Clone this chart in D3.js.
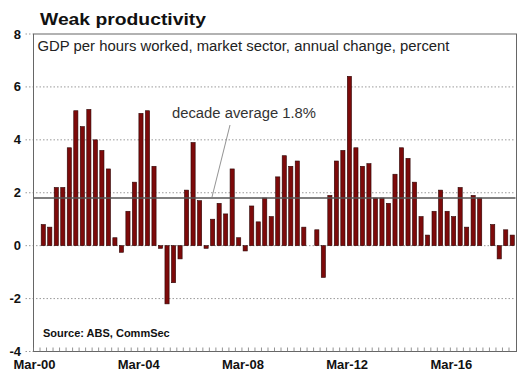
<!DOCTYPE html>
<html>
<head>
<meta charset="utf-8">
<script src="https://cdn.jsdelivr.net/npm/d3@7"></script>
<style>
  html, body { margin: 0; padding: 0; background: #fff; }
  svg { display: block; font-family: Arial, "Liberation Sans", sans-serif; }
</style>
</head>
<body>
<svg id="chart" width="518" height="372"></svg>
<script>
// Market-sector labour productivity, annual % change, quarterly from Mar-00
const firstYear = 2000;
const quarterMonths = ["Mar", "Jun", "Sep", "Dec"];
const productivity = [
  0.8, 0.7, 2.2, 2.2, 3.7, 5.1, 4.5, 5.15, 4.0, 3.6, 2.9, 0.3,
  -0.25, 1.3, 2.4, 5.0, 5.1, 3.0, -0.1, -2.2, -1.4, -0.5, 2.1, 3.9,
  1.7, -0.1, 1.0, 1.6, 1.2, 2.9, 0.3, -0.2, 1.5, 0.9, 1.8, 1.1,
  2.6, 3.4, 3.0, 3.2, 0.7, 0.0, 0.6, -1.2, 1.9, 3.2, 3.6, 6.4,
  3.7, 3.0, 3.1, 1.8, 1.8, 1.6, 2.7, 3.7, 3.3, 2.4, 1.1, 0.4,
  1.3, 2.1, 1.3, 1.1, 2.2, 0.7, 1.9, 1.8, null, 0.8, -0.5, 0.6,
  0.4
];
const decadeAverage = 1.8;
const yTicks = [8, 6, 4, 2, 0, -2, -4];
const xTickLabels = ["Mar-00", "Mar-04", "Mar-08", "Mar-12", "Mar-16"];

// Category list: a leading Dec-99 slot, then one label per quarter
const quarters = ["Dec-99"];
productivity.forEach((_, i) => {
  const yr = firstYear + Math.floor(i / 4);
  quarters.push(quarterMonths[i % 4] + "-" + String(yr % 100).padStart(2, "0"));
});
const series = quarters.map((q, i) => ({ q, v: i === 0 ? null : productivity[i - 1] }));

const svg = d3.select("#chart");
const plotLeft = 33.5, plotRight = 515.5, plotTop = 34, plotBottom = 351.5;

const x = d3.scaleBand().domain(quarters).range([plotLeft, plotRight]).paddingInner(0.36).paddingOuter(0.18);
const y = d3.scaleLinear().domain([-4, 8]).range([plotBottom, plotTop]);
const step = x.step();
const boundary = q => x(q) - step * x.paddingInner() / 2;

// Dotted horizontal gridlines (with short stubs left of the frame)
svg.append("g").selectAll("line").data(yTicks.filter(t => t !== 8 && t !== -4)).join("line")
  .attr("x1", plotLeft - 8).attr("x2", plotRight)
  .attr("y1", d => y(d)).attr("y2", d => y(d))
  .attr("stroke", "#9a9a9a").attr("stroke-width", 1)
  .attr("stroke-dasharray", "1.5,2");
svg.append("g").selectAll("line").data([8, -4]).join("line")
  .attr("x1", plotLeft - 8).attr("x2", plotLeft)
  .attr("y1", d => y(d)).attr("y2", d => y(d))
  .attr("stroke", "#9a9a9a").attr("stroke-dasharray", "1.5,2");

// Bars
svg.append("g").selectAll("rect").data(series.filter(d => d.v !== null)).join("rect")
  .attr("x", d => x(d.q))
  .attr("width", x.bandwidth())
  .attr("y", d => y(Math.max(0, d.v)))
  .attr("height", d => Math.abs(y(d.v) - y(0)))
  .attr("fill", "#7d0a0a")
  .attr("stroke", "#2b0505")
  .attr("stroke-width", 0.6);

// Decade average line
svg.append("line")
  .attr("x1", plotLeft).attr("x2", plotRight)
  .attr("y1", y(decadeAverage)).attr("y2", y(decadeAverage))
  .attr("stroke", "#555").attr("stroke-width", 1.6);

// Frame
svg.append("rect")
  .attr("x", plotLeft).attr("y", y(8))
  .attr("width", plotRight - plotLeft + 1).attr("height", y(-4) - y(8))
  .attr("fill", "none").attr("stroke", "#666").attr("stroke-width", 1);

// Quarterly minor ticks along the bottom
svg.append("g").selectAll("line").data(quarters).join("line")
  .attr("x1", d => boundary(d)).attr("x2", d => boundary(d))
  .attr("y1", plotBottom - 4).attr("y2", plotBottom)
  .attr("stroke", "#777").attr("stroke-width", 0.8);

// Y labels
svg.append("g").selectAll("text").data(yTicks).join("text")
  .attr("x", 21).attr("y", d => y(d) + 4.5)
  .attr("text-anchor", "end")
  .attr("font-size", 13).attr("font-weight", "bold").attr("fill", "#111")
  .text(d => d);

// X labels, each centred on the boundary before the previous quarter
svg.append("g").selectAll("text").data(xTickLabels).join("text")
  .attr("x", d => boundary(d) - step + 1)
  .attr("y", 369)
  .attr("text-anchor", "middle")
  .attr("font-size", 13).attr("font-weight", "bold").attr("fill", "#111")
  .text(d => d);

// Titles and notes
svg.append("text").attr("x", 40).attr("y", 25)
  .attr("font-size", 17).attr("font-weight", "bold").attr("fill", "#111")
  .attr("textLength", 166).attr("lengthAdjust", "spacingAndGlyphs")
  .text("Weak productivity");
svg.append("text").attr("x", 37.5).attr("y", 51)
  .attr("font-size", 13.8).attr("fill", "#222")
  .attr("textLength", 412).attr("lengthAdjust", "spacingAndGlyphs")
  .text("GDP per hours worked, market sector, annual change, percent");
svg.append("text").attr("x", 43).attr("y", 337)
  .attr("font-size", 11).attr("font-weight", "bold").attr("fill", "#111")
  .text("Source: ABS, CommSec");

// Annotation for the average line
svg.append("text").attr("x", 172).attr("y", 118)
  .attr("font-size", 14).attr("fill", "#333")
  .attr("textLength", 144).attr("lengthAdjust", "spacingAndGlyphs")
  .text("decade average " + decadeAverage + "%");
svg.append("line")
  .attr("x1", 230).attr("y1", 125)
  .attr("x2", 212).attr("y2", y(decadeAverage) - 1)
  .attr("stroke", "#777").attr("stroke-width", 0.8);
</script>
</body>
</html>
